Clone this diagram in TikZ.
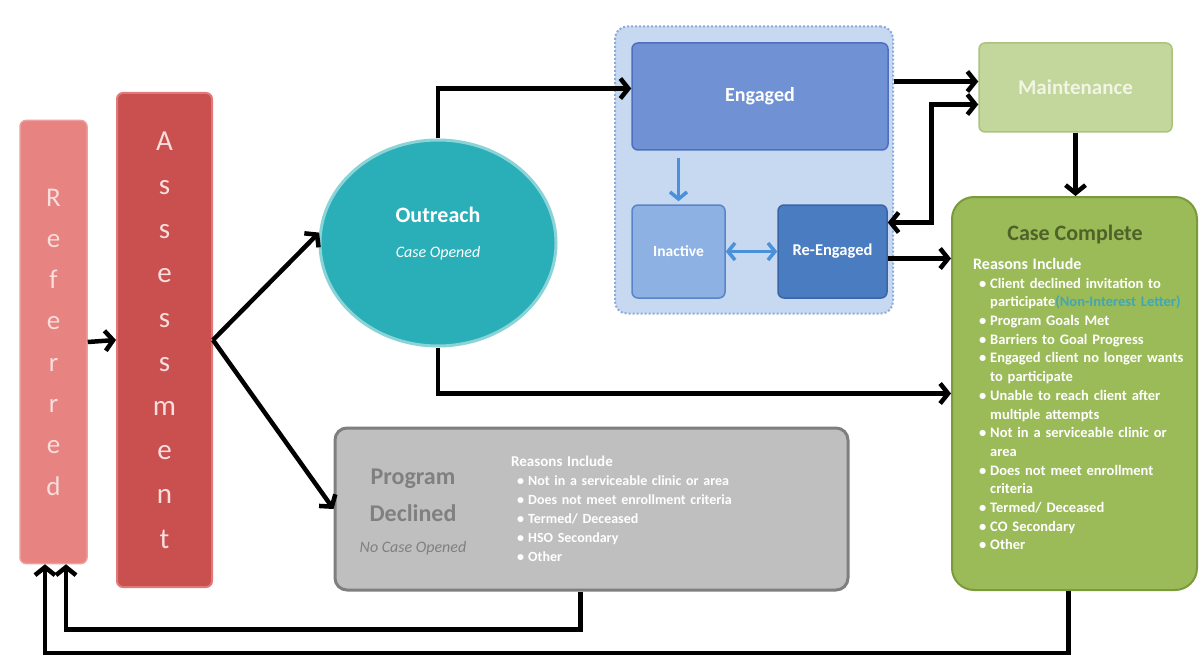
\documentclass[tikz,border=0pt]{standalone}
\usepackage{fontspec}
\setmainfont{Carlito}
\usetikzlibrary{arrows.meta,shapes.geometric}

\definecolor{refred}{HTML}{E78381}
\definecolor{refborder}{HTML}{EE9E9C}
\definecolor{assessred}{HTML}{C9504F}
\definecolor{assessborder}{HTML}{E07A78}
\definecolor{barletter}{HTML}{F8DEDD}
\definecolor{outteal}{HTML}{2AAEB7}
\definecolor{outborder}{HTML}{8AD3D7}
\definecolor{contblue}{HTML}{C6D9F1}
\definecolor{contborder}{HTML}{8EAADB}
\definecolor{engblue}{HTML}{7092D5}
\definecolor{engborder}{HTML}{4E6FBF}
\definecolor{inactblue}{HTML}{8EB1E3}
\definecolor{inactborder}{HTML}{5A84C8}
\definecolor{reengblue}{HTML}{4A7CC2}
\definecolor{reengborder}{HTML}{3B64A6}
\definecolor{arrowblue}{HTML}{4A90DA}
\definecolor{maintgreen}{HTML}{C3D69B}
\definecolor{maintborder}{HTML}{A9C47F}
\definecolor{maintext}{HTML}{F0F5E4}
\definecolor{ccgreen}{HTML}{9BBB59}
\definecolor{ccborder}{HTML}{7A9A3C}
\definecolor{cctitle}{HTML}{4F6228}
\definecolor{linkteal}{HTML}{3FA7B5}
\definecolor{pdgray}{HTML}{BFBFBF}
\definecolor{pdborder}{HTML}{7F7F7F}
\definecolor{pdtext}{HTML}{808080}

\tikzset{
  stage/.style={rectangle, rounded corners=6pt, inner sep=0pt},
  arr/.style={->, >={Straight Barb[length=8pt,width=20pt]}, line width=4.5pt, black},
  bluearr/.style={->, >={Straight Barb[length=7pt,width=17pt]}, line width=3.5pt, arrowblue},
}

% one bullet line of a reasons list
\newcommand{\rsnitem}[1]{\par\hangindent=17pt\hangafter=1\noindent\hbox to 17pt{\hspace{6pt}\textbullet\hfill}#1}

\begin{document}
\begin{tikzpicture}[x=1pt,y=-1pt]
  \useasboundingbox[fill=white] (0,0) rectangle (1201,663);

  % left bars
  \node[stage, fill=refred, draw=refborder, line width=1.5pt, minimum width=67pt, minimum height=443pt,
        text=barletter, font=\fontsize{27}{41.3}\selectfont, align=center] (ref) at (53.5,342)
        {R\\e\\f\\e\\r\\r\\e\\d};
  \node[stage, fill=assessred, draw=assessborder, line width=2pt, minimum width=95pt, minimum height=494pt,
        text=barletter, font=\fontsize{29}{44.2}\selectfont, align=center] (assess) at (164.5,340)
        {A\\s\\s\\e\\s\\s\\m\\e\\n\\t};

  % outreach
  \node[ellipse, fill=outteal, draw=outborder, line width=3pt, minimum width=236pt, minimum height=206pt] (outreach) at (438,243) {};
  \node[text=white, align=center, font=\fontsize{22}{35}\selectfont\bfseries] (outtxt) at (438,234)
        {Outreach\\{\fontsize{16}{16}\selectfont\mdseries\itshape Case Opened}};

  % engaged group
  \node[fill=contblue, draw=contborder, dotted, line width=2pt, rounded corners=12pt,
        minimum width=278pt, minimum height=287pt] (engbox) at (754,170) {};
  \node[stage, fill=engblue, draw=engborder, line width=1.5pt, minimum width=256pt, minimum height=107pt,
        text=white, font=\fontsize{20}{24}\selectfont\bfseries] (engaged) at (760,96.5) {Engaged};
  \node[stage, fill=inactblue, draw=inactborder, line width=1.5pt, minimum width=93pt, minimum height=93pt,
        text=white, font=\fontsize{15.5}{18}\selectfont\bfseries] (inactive) at (678.5,251.5) {Inactive};
  \node[stage, fill=reengblue, draw=reengborder, line width=1.5pt, minimum width=109pt, minimum height=93pt,
        text=white, font=\fontsize{16.5}{18}\selectfont\bfseries] (reeng) at (832.5,251.5) {Re-Engaged};

  % right column
  \node[stage, fill=maintgreen, draw=maintborder, line width=1.5pt, minimum width=193pt, minimum height=89pt,
        text=maintext, font=\fontsize{21}{24}\selectfont\bfseries] (maint) at (1075.5,87.5) {Maintenance};
  \node[stage, rounded corners=22pt, fill=ccgreen, draw=ccborder, line width=2pt,
        minimum width=245pt, minimum height=393pt] (cc) at (1074.5,393.5) {};
  \node[text=cctitle, font=\fontsize{22}{24}\selectfont\bfseries] (cctxt) at (1075,235) {Case Complete};
  \node[anchor=north west, inner sep=0pt, text width=222pt, align=left, text=white,
        font=\fontsize{14.5}{18.7}\selectfont\bfseries] (ccreasons) at (973,258)
  {{\fontsize{16}{18.7}\selectfont Reasons Include}
   \rsnitem{Client declined invitation to\newline participate{\color{linkteal}(Non-Interest Letter)}}
   \rsnitem{Program Goals Met}
   \rsnitem{Barriers to Goal Progress}
   \rsnitem{Engaged client no longer wants\newline to participate}
   \rsnitem{Unable to reach client after\newline multiple attempts}
   \rsnitem{Not in a serviceable clinic or\newline area}
   \rsnitem{Does not meet enrollment\newline criteria}
   \rsnitem{Termed/ Deceased}
   \rsnitem{CO Secondary}
   \rsnitem{Other}};

  % program declined
  \node[stage, rounded corners=12pt, fill=pdgray, draw=pdborder, line width=3pt,
        minimum width=513pt, minimum height=162pt] (pd) at (591.5,509) {};
  \node[text=pdtext, align=center, font=\fontsize{24}{37}\selectfont\bfseries] (pdtxt) at (413,495) {Program\\Declined};
  \node[text=pdtext, font=\fontsize{16}{18}\selectfont\itshape] (pdsub) at (413,548) {No Case Opened};
  \node[anchor=north west, inner sep=0pt, text width=260pt, align=left, text=white,
        font=\fontsize{14}{19}\selectfont\bfseries] (pdreasons) at (511,456)
  {{\fontsize{15}{19}\selectfont Reasons Include}
   \rsnitem{Not in a serviceable clinic or area}
   \rsnitem{Does not meet enrollment criteria}
   \rsnitem{Termed/ Deceased}
   \rsnitem{HSO Secondary}
   \rsnitem{Other}};

  % connectors
  \coordinate (engin) at ([yshift=8pt]engaged.west);
  \coordinate (m1) at ([yshift=6pt]maint.west);
  \coordinate (m2) at ([yshift=-17pt]maint.west);
  \coordinate (r1) at ([yshift=-7pt]reeng.east);
  \coordinate (r2) at ([yshift=29pt]reeng.east);

  \draw[arr] (ref.east) -- (assess.west);
  \draw[arr] (assess.east) -- (outreach.175);
  \draw[arr] (assess.east) -- (pd.west);
  \draw[arr] (outreach.north) |- (engin);
  \draw[arr] (outreach.south) |- (cc.west);
  \draw[arr] (engbox.east |- m1) -- (m1);
  \draw[arr,<->] (r2) -| ([xshift=-47pt]m2) -- (m2);
  \draw[arr] (r1) -- (r1 -| cc.west);
  \draw[arr] (maint.south) -- (maint.south |- cc.north);

  \draw[bluearr] (inactive.north |- engaged.south) ++(0,7) -- ([yshift=3pt]inactive.north);
  \draw[bluearr,<->] (inactive.east) -- (reeng.west);

  \draw[arr] ([xshift=-11pt]pd.south) -- ++(0,38) -| ([xshift=12.5pt]ref.south);
  \draw[arr] ([xshift=-6pt]cc.south) -- ++(0,62) -| ([xshift=-8.5pt]ref.south);
\end{tikzpicture}
\end{document}
